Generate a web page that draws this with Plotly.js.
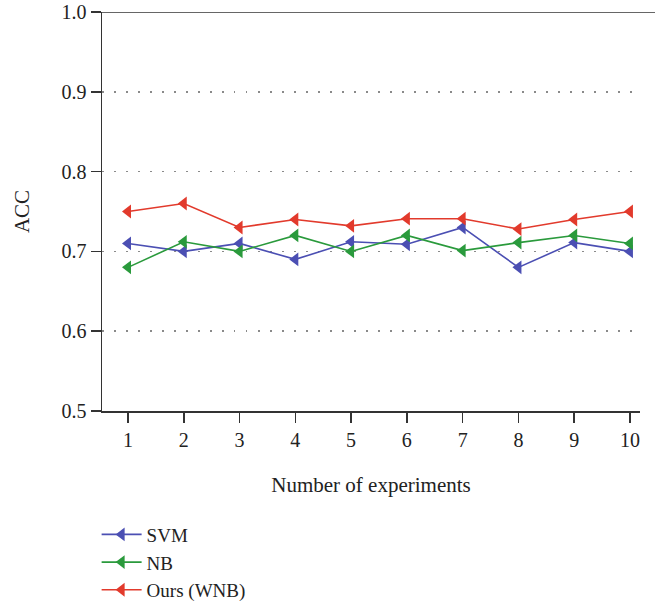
<!DOCTYPE html>
<html>
<head>
<meta charset="utf-8">
<script src="https://cdn.plot.ly/plotly-3.0.1.min.js"></script>
<style>html,body{margin:0;padding:0;background:#fff;}#chart{width:655px;height:602px;}</style>
</head>
<body>
<div id="chart"></div>
<script>
const experiments = [1, 2, 3, 4, 5, 6, 7, 8, 9, 10];
const svm = [0.71, 0.70, 0.71, 0.69, 0.712, 0.709, 0.73, 0.68, 0.711, 0.70];
const nb  = [0.68, 0.712, 0.70, 0.72, 0.70, 0.72, 0.701, 0.711, 0.72, 0.71];
const wnb = [0.75, 0.76, 0.73, 0.74, 0.732, 0.741, 0.741, 0.728, 0.74, 0.75];
const seriesNames = ["SVM", "NB", "Ours (WNB)"];
const yTicks = [0.5, 0.6, 0.7, 0.8, 0.9, 1.0];
const yTickText = ["0.5", "0.6", "0.7", "0.8", "0.9", "1.0"];

const colors = ["#4b4fb3", "#2a9a3c", "#e23a2c"];
const FONT = "Liberation Serif, Times New Roman, serif";
const FS = 20;

function trace(y, i) {
  return {
    x: experiments, y: y, name: seriesNames[i], type: "scatter", mode: "lines+markers",
    line: {color: colors[i], width: 1.6},
    marker: {symbol: "triangle-left", size: 12, color: colors[i]}
  };
}

const data = [trace(svm, 0), trace(nb, 1), trace(wnb, 2)];

const layout = {
  width: 655, height: 602,
  margin: {l: 102, r: 15, t: 12, b: 191, autoexpand: false},
  paper_bgcolor: "#fff", plot_bgcolor: "#fff",
  font: {family: FONT, size: FS, color: "#222"},
  showlegend: true,
  legend: {
    x: -0.01, xanchor: "left", y: -0.262, yanchor: "top",
    font: {family: FONT, size: 19, color: "#222"},
    tracegroupgap: 0, itemwidth: 40
  },
  xaxis: {
    range: [0.534, 10.18],
    tickvals: experiments, ticktext: experiments.map(String),
    ticks: "outside", ticklen: 10, tickwidth: 1.5, tickcolor: "#333",
    showline: true, linecolor: "#333", linewidth: 1.5,
    showgrid: false, zeroline: false, automargin: false,
    tickfont: {family: FONT, size: FS, color: "#222"},
    title: {text: "Number of experiments", font: {family: FONT, size: 21, color: "#222"}, standoff: 28}
  },
  yaxis: {
    range: [0.5, 1.0],
    tickvals: yTicks, ticktext: yTickText,
    ticks: "outside", ticklen: 10, tickwidth: 1.5, tickcolor: "#333",
    showline: true, linecolor: "#333", linewidth: 1.5,
    showgrid: true, gridcolor: "#8a8a8a", gridwidth: 1.5, griddash: "1.5px,10.5px",
    zeroline: false, automargin: false,
    tickfont: {family: FONT, size: FS, color: "#222"},
    title: {text: "ACC", font: {family: FONT, size: 21, color: "#222"}, standoff: 26}
  },
  shapes: [{
    type: "line", xref: "paper", yref: "y", x0: 0, x1: 1.03, y0: 1.0, y1: 1.0,
    line: {color: "#333", width: 1.5}
  }]
};

Plotly.newPlot("chart", data, layout, {displayModeBar: false, staticPlot: true});
</script>
</body>
</html>
